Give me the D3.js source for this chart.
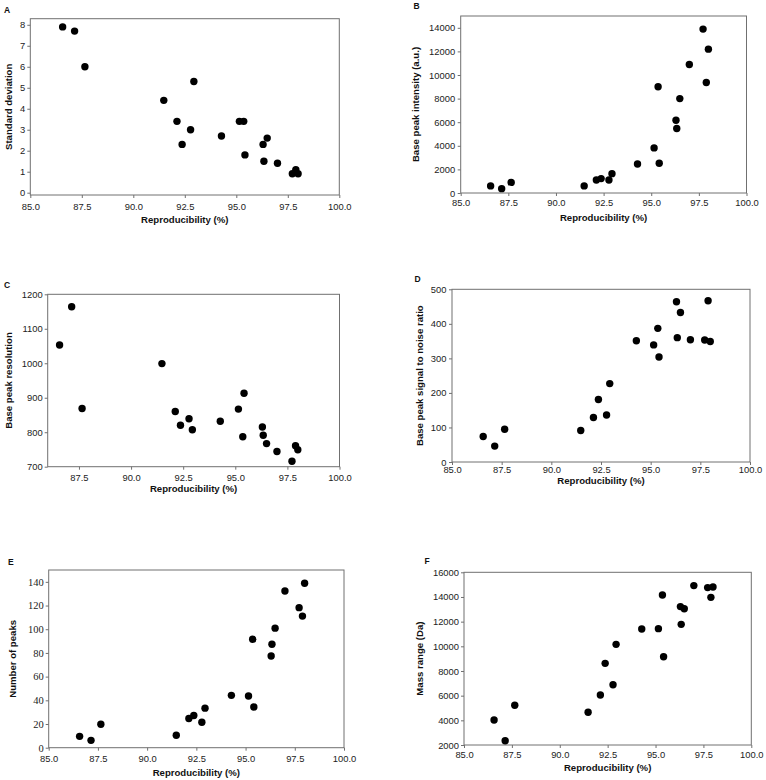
<!DOCTYPE html>
<html><head><meta charset="utf-8">
<script src="https://cdn.jsdelivr.net/npm/d3@7"></script>
<style>
html,body{margin:0;padding:0;background:#fff;}
svg{display:block;}
</style></head>
<body>
<svg id="chart" width="766" height="780"></svg>
<script>
// ---- data ----
const reproducibility = [86.57, 87.15, 87.65, 91.48, 92.12, 92.37, 92.78, 92.94, 94.28, 95.15, 95.36, 95.42, 96.30, 96.34, 96.50, 97.00, 97.72, 97.89, 98.00];
const standardDeviation = [7.9, 7.7, 6.0, 4.4, 3.4, 2.3, 3.0, 5.3, 2.7, 3.4, 3.4, 1.8, 2.3, 1.5, 2.6, 1.4, 0.9, 1.1, 0.9];
const basePeakIntensity = [600, 370, 900, 600, 1100, 1220, 1100, 1640, 2460, 3820, 9000, 2520, 6170, 5460, 8000, 10890, 13890, 9360, 12190];
const basePeakResolution = [1053, 1164, 869, 999, 860, 820, 839, 807, 832, 867, 787, 913, 815, 791, 767, 744, 716, 761, 749];
const signalToNoise = [74, 46, 95, 91, 129, 181, 136, 227, 351, 339, 387, 304, 464, 360, 433, 354, 353, 467, 349];
const numberOfPeaks = [9.6, 6.2, 19.8, 10.5, 24.7, 27.2, 21.5, 33.4, 44.2, 43.6, 91.5, 34.3, 77.4, 87.3, 100.9, 132.3, 118.2, 111.1, 138.8];
const massRange = [4030, 2350, 5220, 4650, 6050, 8620, 6890, 10160, 11400, 11430, 14160, 9160, 13220, 11780, 13050, 14920, 14760, 13970, 14810];

const xTicksFull = [85, 87.5, 90, 92.5, 95, 97.5, 100];
const xTicksC = [87.5, 90, 92.5, 95, 97.5, 100];
const yTicksA = [0, 1, 2, 3, 4, 5, 6, 7, 8];
const yTicksB = [0, 2000, 4000, 6000, 8000, 10000, 12000, 14000];
const yTicksC = [700, 800, 900, 1000, 1100, 1200];
const yTicksD = [0, 100, 200, 300, 400, 500];
const yTicksE = [0, 20, 40, 60, 80, 100, 120, 140];
const yTicksF = [2000, 4000, 6000, 8000, 10000, 12000, 14000, 16000];

const panelLetters = ["A", "B", "C", "D", "E", "F"];
const yTitles = ["Standard deviation", "Base peak intensity (a.u.)", "Base peak resolution",
                 "Base peak signal to noise ratio", "Number of peaks", "Mass range (Da)"];
const xTitle = "Reproducibility (%)";

// ---- layout ----
const panels = [
  {letter: panelLetters[0], ys: standardDeviation, yTitle: yTitles[0], yTicks: yTicksA, yDom: [-0.11, 8.29], xDom: [85, 100], xTicks: xTicksFull,
   l: 30.3, r: 339.3, t: 18.7, b: 195, lx: 4, ly: 13, ytx: 8, xty: 222.5, xpad: 5, ypad: 2},
  {letter: panelLetters[1], ys: basePeakIntensity, yTitle: yTitles[1], yTicks: yTicksB, yDom: [0, 15000], xDom: [85, 100], xTicks: xTicksFull,
   l: 460.7, r: 746.5, t: 16, b: 193, lx: 413.5, ly: 9, ytx: 415, xty: 220.5, xpad: 3.5, ypad: 2.5},
  {letter: panelLetters[2], ys: basePeakResolution, yTitle: yTitles[2], yTicks: yTicksC, yDom: [700, 1200], xDom: [86, 100], xTicks: xTicksC,
   l: 47.7, r: 339.5, t: 294.3, b: 466.7, lx: 4, ly: 287.5, ytx: 8, xty: 491.5, xpad: 4.5, ypad: 2},
  {letter: panelLetters[3], ys: signalToNoise, yTitle: yTitles[3], yTicks: yTicksD, yDom: [0, 500], xDom: [85, 100], xTicks: xTicksFull,
   l: 452, r: 750, t: 289.3, b: 462, lx: 414.5, ly: 282, ytx: 419, xty: 484, xpad: 1, ypad: 2.5},
  {letter: panelLetters[4], ys: numberOfPeaks, yTitle: yTitles[4], yTicks: yTicksE, yDom: [0, 150], xDom: [85, 100], xTicks: xTicksFull,
   l: 48.7, r: 344, t: 570, b: 747.7, lx: 8, ly: 564.5, ytx: 12, xty: 775.5, xpad: 4.5, ypad: 2, serifY: true},
  {letter: panelLetters[5], ys: massRange, yTitle: yTitles[5], yTicks: yTicksF, yDom: [2000, 16000], xDom: [85, 100], xTicks: xTicksFull,
   l: 464, r: 751.3, t: 572.3, b: 745, lx: 424.5, ly: 563.5, ytx: 419, xty: 771, xpad: 3.5, ypad: 2}
];

const svg = d3.select("#chart");
const sans = "'Liberation Sans', Arial, sans-serif";
const serif = "'Liberation Serif', 'Times New Roman', serif";
const frameColor = "#707070";

panels.forEach(p => {
  const g = svg.append("g");
  const x = d3.scaleLinear().domain(p.xDom).range([p.l, p.r]);
  const y = d3.scaleLinear().domain(p.yDom).range([p.b, p.t]);

  // frame
  g.append("rect").attr("x", p.l).attr("y", p.t).attr("width", p.r - p.l).attr("height", p.b - p.t)
    .attr("fill", "none").attr("stroke", frameColor).attr("stroke-width", 1);

  // x axis
  const xa = g.append("g").attr("transform", `translate(0,${p.b})`)
    .call(d3.axisBottom(x).tickValues(p.xTicks).tickFormat(d3.format(".1f")).tickSize(3).tickPadding(p.xpad).tickSizeOuter(0));
  xa.select(".domain").remove();
  xa.selectAll("line").attr("stroke", frameColor);
  xa.selectAll("text").attr("font-family", sans).attr("font-size", "9.4px").attr("fill", "#222");

  // y axis
  const ya = g.append("g").attr("transform", `translate(${p.l},0)`)
    .call(d3.axisLeft(y).tickValues(p.yTicks).tickFormat(d3.format("d")).tickSize(3).tickPadding(p.ypad).tickSizeOuter(0));
  ya.select(".domain").remove();
  ya.selectAll("line").attr("stroke", frameColor);
  ya.selectAll("text").attr("font-family", p.serifY ? serif : sans)
    .attr("font-size", p.serifY ? "10.5px" : "9.4px").attr("fill", "#222");

  // points
  g.append("g").selectAll("circle").data(reproducibility.map((v, i) => [v, p.ys[i]]))
    .join("circle").attr("cx", d => x(d[0])).attr("cy", d => y(d[1])).attr("r", 3.7).attr("fill", "#000");

  // titles
  g.append("text").attr("x", (p.l + p.r) / 2).attr("y", p.xty).attr("text-anchor", "middle")
    .attr("font-family", sans).attr("font-weight", "bold").attr("font-size", "9.6px").attr("fill", "#111")
    .text(xTitle);
  g.append("text").attr("transform", `translate(${p.ytx},${(p.t + p.b) / 2}) rotate(-90)`)
    .attr("text-anchor", "middle").attr("dominant-baseline", "central")
    .attr("font-family", sans).attr("font-weight", "bold").attr("font-size", "9.6px").attr("fill", "#111")
    .text(p.yTitle);
  g.append("text").attr("x", p.lx).attr("y", p.ly)
    .attr("font-family", sans).attr("font-weight", "bold").attr("font-size", "8.5px").attr("fill", "#111")
    .text(p.letter);
});
</script>
</body></html>
